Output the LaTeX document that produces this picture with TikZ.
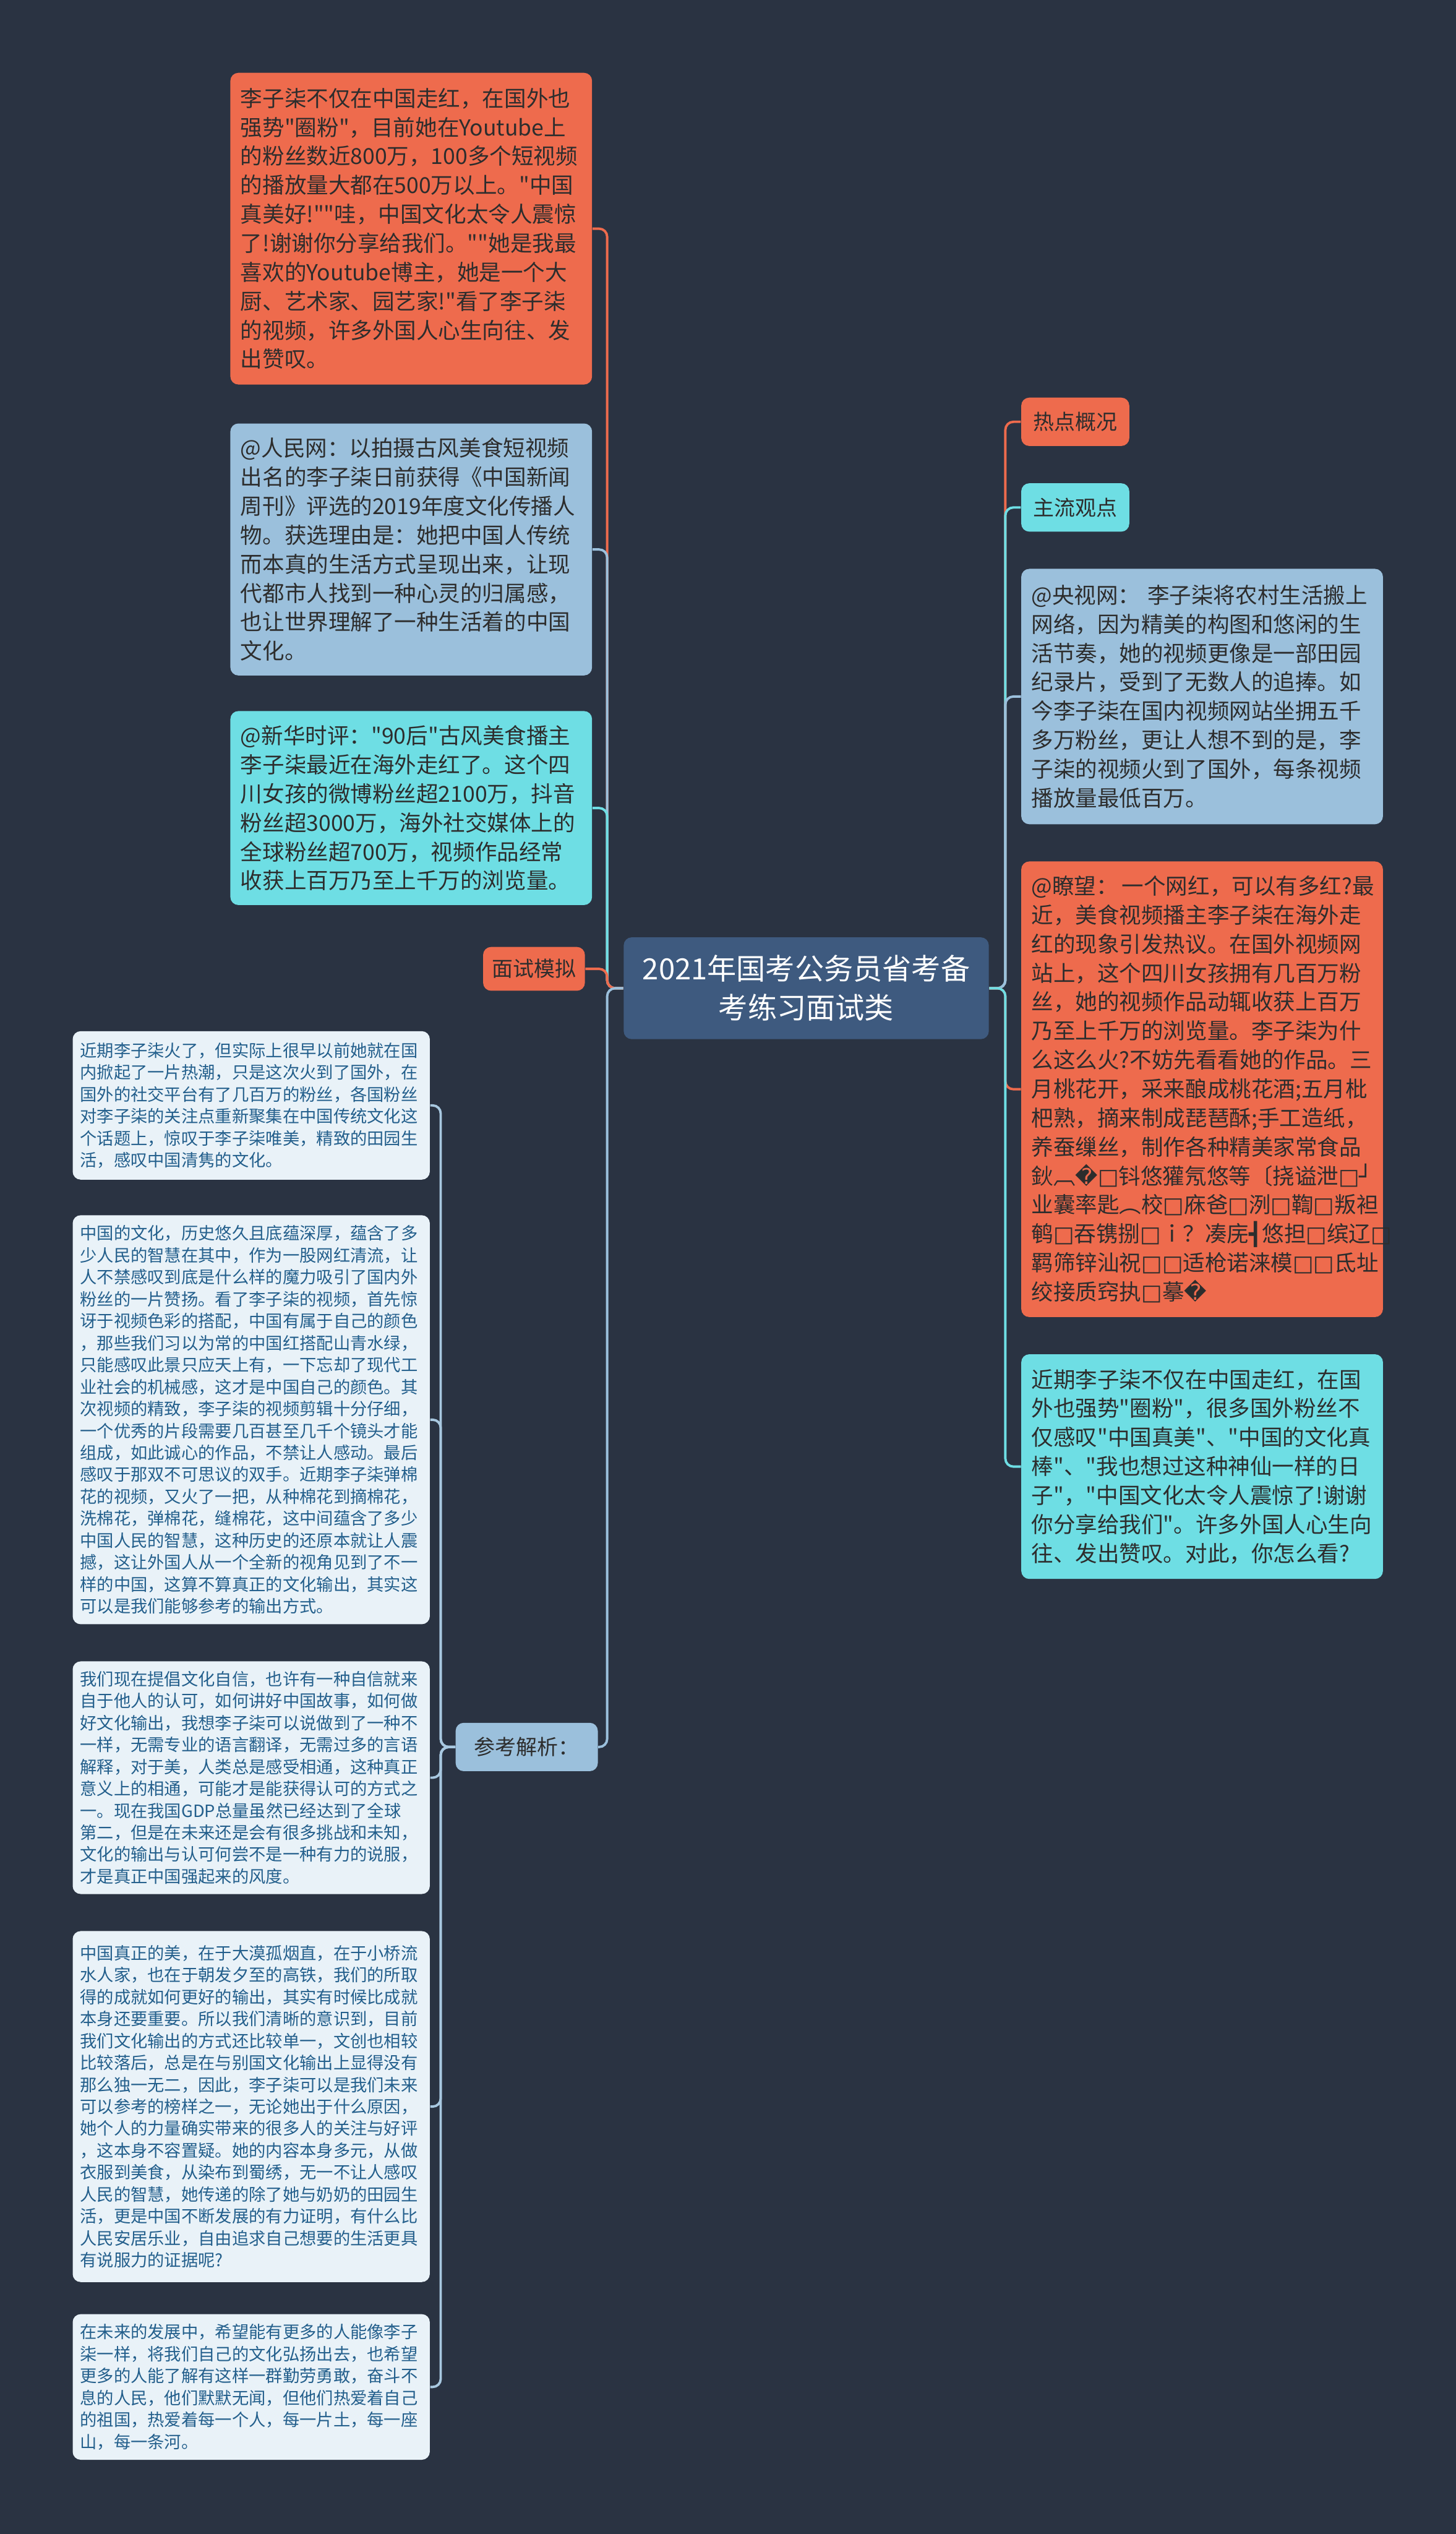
\documentclass[tikz,border=0pt]{standalone}
\usepackage{fontspec}
\setmainfont{Noto Sans CJK SC}
\newfontfamily\hanzi{Noto Sans CJK SC}
\newfontfamily\dejavu{DejaVu Sans}
\usepackage{tikz}
\definecolor{bgnavy}{RGB}{42,51,66}
\definecolor{hotorange}{RGB}{238,107,77}
\definecolor{aqua}{RGB}{110,222,228}
\definecolor{skyblue}{RGB}{155,192,220}
\definecolor{paleblue}{RGB}{233,242,248}
\definecolor{rootblue}{RGB}{62,90,127}
\definecolor{inkdark}{RGB}{45,45,45}
\definecolor{inkblue}{RGB}{35,95,140}
\definecolor{twigblue}{RGB}{168,200,224}
\newcommand{\tofu}{{\dejavu □}}
\newcommand{\badq}{{\dejavu �}}

\begin{document}
\begin{tikzpicture}[x=0.028413cm,y=-0.028413cm]
 \tikzstyle{bigbox}=[rectangle,rounded corners=4pt,text width=6cm,inner xsep=0.18cm,
   align=left,text=inkdark,font=\hanzi\fontsize{11}{14.5}\selectfont]
 \tikzstyle{smallbox}=[rectangle,rounded corners=4pt,fill=paleblue,text width=6.02cm,
   inner xsep=0.13cm,align=left,text=inkblue,font=\hanzi\fontsize{8.45}{10.97}\selectfont]
 \tikzstyle{tag}=[rectangle,rounded corners=4pt,text=inkdark,minimum height=0.85cm,
   font=\hanzi\fontsize{10.5}{12}\selectfont]
 \tikzstyle{link}=[line width=1.2pt,rounded corners=4pt]

 \fill[bgnavy] (0,0) rectangle (901,1568);
 \useasboundingbox (0,0) rectangle (901,1568);

 % centre
 \node (root) [rectangle,rounded corners=4pt,fill=rootblue,text=white,
   minimum width=6.42cm,minimum height=1.79cm,align=center,
   font=\hanzi\fontsize{14.6}{19.5}\selectfont] at (499,611.5)
   {2021年国考公务员省考备\\考练习面试类};

 % right side
 \node (hot) [tag,fill=hotorange,minimum width=1.9cm] at (665.5,261) {热点概况};
 \node (view) [tag,fill=aqua,minimum width=1.9cm] at (665.5,314) {主流观点};
 \node (cctv) [bigbox,fill=skyblue,minimum height=4.49cm] at (744,431)
   {@央视网：~李子柒将农村生活搬上\\网络，因为精美的构图和悠闲的生\\活节奏，她的视频更像是一部田园\\纪录片，受到了无数人的追捧。如\\今李子柒在国内视频网站坐拥五千\\多万粉丝，更让人想不到的是，李\\子柒的视频火到了国外，每条视频\\播放量最低百万。};
 \node (lw) [bigbox,fill=hotorange,minimum height=8.01cm] at (744,674)
   {@瞭望：\,一个网红，可以有多红?最\\近，美食视频播主李子柒在海外走\\红的现象引发热议。在国外视频网\\站上，这个四川女孩拥有几百万粉\\丝，她的视频作品动辄收获上百万\\乃至上千万的浏览量。李子柒为什\\么这么火?不妨先看看她的作品。三\\月桃花开，采来酿成桃花酒;五月枇\\杷熟，摘来制成琵琶酥;手工造纸，\\养蚕缫丝，制作各种精美家常食品\\鈥︹\badq\tofu 钭悠獾氖悠等〔挠谥泄\tofu{\dejavu ┘}\\业囊率匙︵校\tofu 庥爸\tofu 洌\tofu 鞫\tofu 叛袒\\鹌\tofu 吞镌捌\tofu ｉ？凑庑{\dejavu ┫}悠担\tofu 缤辽\tofu\\羁筛锌汕祝\tofu\tofu 适枪诺涞模\tofu\tofu 氐址\\绞接质窍执\tofu 摹\badq};
 \node (ask) [bigbox,fill=aqua,minimum height=3.95cm] at (744,907.5)
   {近期李子柒不仅在中国走红，在国\\外也强势"圈粉"，很多国外粉丝不\\仅感叹"中国真美"、"中国的文化真\\棒"、"我也想过这种神仙一样的日\\子"，"中国文化太令人震惊了!谢谢\\你分享给我们"。许多外国人心生向\\往、发出赞叹。对此，你怎么看?};

 % left side
 \node (fans) [bigbox,fill=hotorange,minimum height=5.48cm] at (254.5,141.5)
   {李子柒不仅在中国走红，在国外也\\强势"圈粉"，目前她在Youtube上\\的粉丝数近800万，100多个短视频\\的播放量大都在500万以上。"中国\\真美好!""哇，中国文化太令人震惊\\了!谢谢你分享给我们。""她是我最\\喜欢的Youtube博主，她是一个大\\厨、艺术家、园艺家!"看了李子柒\\的视频，许多外国人心生向往、发\\出赞叹。};
 \node (rmw) [bigbox,fill=skyblue,minimum height=4.43cm] at (254.5,340)
   {@人民网：以拍摄古风美食短视频\\出名的李子柒日前获得《中国新闻\\周刊》评选的2019年度文化传播人\\物。获选理由是：她把中国人传统\\而本真的生活方式呈现出来，让现\\代都市人找到一种心灵的归属感，\\也让世界理解了一种生活着的中国\\文化。};
 \node (xh) [bigbox,fill=aqua,minimum height=3.41cm] at (254.5,500)
   {@新华时评："90后"古风美食播主\\李子柒最近在海外走红了。这个四\\川女孩的微博粉丝超2100万，抖音\\粉丝超3000万，海外社交媒体上的\\全球粉丝超700万，视频作品经常\\收获上百万乃至上千万的浏览量。};
 \node (mock) [tag,fill=hotorange,minimum width=1.79cm,minimum height=0.77cm]
   at (330.5,599.5) {面试模拟};
 \node (ref) [tag,fill=skyblue,minimum width=2.5cm] at (326,1081) {参考解析：};

 \node (b1) [smallbox,minimum height=2.61cm] at (155.5,684)
   {近期李子柒火了，但实际上很早以前她就在国\\内掀起了一片热潮，只是这次火到了国外，在\\国外的社交平台有了几百万的粉丝，各国粉丝\\对李子柒的关注点重新聚集在中国传统文化这\\个话题上，惊叹于李子柒唯美，精致的田园生\\活，感叹中国清隽的文化。};
 \node (b2) [smallbox,minimum height=7.19cm] at (155.5,878.5)
   {中国的文化，历史悠久且底蕴深厚，蕴含了多\\少人民的智慧在其中，作为一股网红清流，让\\人不禁感叹到底是什么样的魔力吸引了国内外\\粉丝的一片赞扬。看了李子柒的视频，首先惊\\讶于视频色彩的搭配，中国有属于自己的颜色\\，那些我们习以为常的中国红搭配山青水绿，\\只能感叹此景只应天上有，一下忘却了现代工\\业社会的机械感，这才是中国自己的颜色。其\\次视频的精致，李子柒的视频剪辑十分仔细，\\一个优秀的片段需要几百甚至几千个镜头才能\\组成，如此诚心的作品，不禁让人感动。最后\\感叹于那双不可思议的双手。近期李子柒弹棉\\花的视频，又火了一把，从种棉花到摘棉花，\\洗棉花，弹棉花，缝棉花，这中间蕴含了多少\\中国人民的智慧，这种历史的还原本就让人震\\撼，这让外国人从一个全新的视角见到了不一\\样的中国，这算不算真正的文化输出，其实这\\可以是我们能够参考的输出方式。};
 \node (b3) [smallbox,minimum height=4.09cm] at (155.5,1100)
   {我们现在提倡文化自信，也许有一种自信就来\\自于他人的认可，如何讲好中国故事，如何做\\好文化输出，我想李子柒可以说做到了一种不\\一样，无需专业的语言翻译，无需过多的言语\\解释，对于美，人类总是感受相通，这种真正\\意义上的相通，可能才是能获得认可的方式之\\一。现在我国GDP总量虽然已经达到了全球\\第二，但是在未来还是会有很多挑战和未知，\\文化的输出与认可何尝不是一种有力的说服，\\才是真正中国强起来的风度。};
 \node (b4) [smallbox,minimum height=6.17cm] at (155.5,1303.5)
   {中国真正的美，在于大漠孤烟直，在于小桥流\\水人家，也在于朝发夕至的高铁，我们的所取\\得的成就如何更好的输出，其实有时候比成就\\本身还要重要。所以我们清晰的意识到，目前\\我们文化输出的方式还比较单一，文创也相较\\比较落后，总是在与别国文化输出上显得没有\\那么独一无二，因此，李子柒可以是我们未来\\可以参考的榜样之一，无论她出于什么原因，\\她个人的力量确实带来的很多人的关注与好评\\，这本身不容置疑。她的内容本身多元，从做\\衣服到美食，从染布到蜀绣，无一不让人感叹\\人民的智慧，她传递的除了她与奶奶的田园生\\活，更是中国不断发展的有力证明，有什么比\\人民安居乐业，自由追求自己想要的生活更具\\有说服力的证据呢?};
 \node (b5) [smallbox,minimum height=2.56cm] at (155.5,1477)
   {在未来的发展中，希望能有更多的人能像李子\\柒一样，将我们自己的文化弘扬出去，也希望\\更多的人能了解有这样一群勤劳勇敢，奋斗不\\息的人民，他们默默无闻，但他们热爱着自己\\的祖国，热爱着每一个人，每一片土，每一座\\山，每一条河。};

 % connectors
 \draw[link,hotorange] (root.west) -- ++(-10,0) |- (fans.east);
 \draw[link,skyblue] (root.west) -- ++(-10,0) |- (rmw.east);
 \draw[link,aqua] (root.west) -- ++(-10,0) |- (xh.east);
 \draw[link,hotorange] (root.west) -- ++(-10,0) |- (mock.east);
 \draw[link,skyblue] (root.west) -- ++(-10,0) |- (ref.east);
 \draw[link,hotorange] (root.east) -- ++(10,0) |- (hot.west);
 \draw[link,aqua] (root.east) -- ++(10,0) |- (view.west);
 \draw[link,skyblue] (root.east) -- ++(10,0) |- (cctv.west);
 \draw[link,hotorange] (root.east) -- ++(10,0) |- (lw.west);
 \draw[link,aqua] (root.east) -- ++(10,0) |- (ask.west);
 \foreach \b in {b1,b2,b3,b4,b5}
   \draw[link,twigblue] (ref.west) -- ++(-9,0) |- (\b.east);
\end{tikzpicture}
\end{document}
